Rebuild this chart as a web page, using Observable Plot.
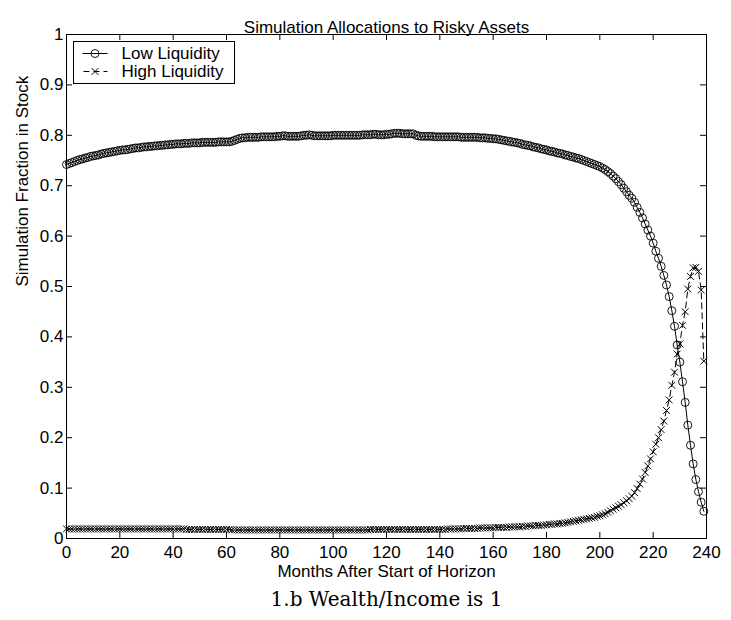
<!DOCTYPE html>
<html>
<head>
<meta charset="utf-8">
<script src="https://cdn.jsdelivr.net/npm/d3@7"></script>
<script src="https://cdn.jsdelivr.net/npm/@observablehq/plot@0.6"></script>
<style>
  html, body { margin: 0; padding: 0; background: white; }
  #chart svg { display: block; }
</style>
</head>
<body>
<div id="chart"></div>
<script>
const chartTitle = "Simulation Allocations to Risky Assets";
const xLabel = "Months After Start of Horizon";
const yLabel = "Simulation Fraction in Stock";
const caption = "1.b Wealth/Income is 1";
const seriesNames = ["Low Liquidity", "High Liquidity"];

const xTicks = [0, 20, 40, 60, 80, 100, 120, 140, 160, 180, 200, 220, 240];
const yTicks = [0, 0.1, 0.2, 0.3, 0.4, 0.5, 0.6, 0.7, 0.8, 0.9, 1];

const months = d3.range(0, 240);

const lowLiquidity = [
  0.742,0.744,0.746,0.748,0.750,0.752,0.753,0.755,0.756,0.758,
  0.759,0.760,0.761,0.763,0.764,0.765,0.766,0.767,0.768,0.769,
  0.770,0.771,0.771,0.772,0.773,0.774,0.775,0.775,0.776,0.777,
  0.777,0.778,0.778,0.779,0.779,0.780,0.780,0.781,0.781,0.782,
  0.782,0.783,0.783,0.783,0.784,0.784,0.784,0.785,0.785,0.785,
  0.785,0.786,0.786,0.786,0.786,0.786,0.786,0.787,0.787,0.787,
  0.787,0.787,0.788,0.790,0.792,0.794,0.795,0.795,0.796,0.796,
  0.796,0.796,0.796,0.797,0.797,0.797,0.797,0.797,0.797,0.798,
  0.798,0.799,0.799,0.798,0.798,0.798,0.798,0.798,0.799,0.800,
  0.800,0.801,0.800,0.799,0.799,0.799,0.799,0.799,0.799,0.799,
  0.800,0.800,0.800,0.800,0.800,0.800,0.800,0.800,0.800,0.800,
  0.800,0.801,0.801,0.801,0.801,0.802,0.802,0.801,0.801,0.801,
  0.802,0.802,0.803,0.804,0.804,0.804,0.803,0.803,0.803,0.803,
  0.803,0.800,0.799,0.798,0.798,0.798,0.798,0.798,0.797,0.797,
  0.797,0.797,0.797,0.797,0.797,0.797,0.797,0.797,0.796,0.796,
  0.796,0.796,0.796,0.796,0.796,0.795,0.795,0.795,0.794,0.794,
  0.793,0.793,0.792,0.791,0.790,0.789,0.788,0.787,0.786,0.785,
  0.784,0.782,0.781,0.780,0.779,0.777,0.776,0.775,0.773,0.772,
  0.771,0.769,0.768,0.767,0.765,0.764,0.763,0.761,0.760,0.758,
  0.757,0.755,0.754,0.752,0.750,0.748,0.746,0.744,0.742,0.740,
  0.738,0.735,0.732,0.728,0.724,0.719,0.714,0.708,0.702,0.695,
  0.688,0.681,0.675,0.667,0.657,0.647,0.636,0.624,0.612,0.600,
  0.586,0.570,0.556,0.540,0.522,0.503,0.480,0.452,0.421,0.384,
  0.350,0.311,0.270,0.225,0.185,0.148,0.117,0.093,0.072,0.054
];

const highLiquidity = [
  0.019,0.019,0.019,0.019,0.019,0.019,0.019,0.019,0.019,0.019,
  0.019,0.019,0.019,0.019,0.019,0.019,0.019,0.019,0.019,0.019,
  0.019,0.019,0.019,0.019,0.019,0.019,0.019,0.019,0.019,0.019,
  0.019,0.019,0.019,0.019,0.019,0.019,0.019,0.019,0.019,0.019,
  0.019,0.019,0.019,0.019,0.019,0.018,0.018,0.018,0.018,0.018,
  0.018,0.018,0.018,0.018,0.018,0.018,0.018,0.018,0.018,0.018,
  0.018,0.018,0.017,0.017,0.017,0.017,0.017,0.017,0.017,0.017,
  0.017,0.017,0.017,0.017,0.017,0.017,0.017,0.017,0.017,0.017,
  0.017,0.017,0.017,0.017,0.017,0.017,0.017,0.017,0.017,0.017,
  0.017,0.017,0.017,0.017,0.017,0.017,0.017,0.017,0.017,0.017,
  0.017,0.017,0.017,0.017,0.017,0.017,0.017,0.017,0.017,0.017,
  0.017,0.017,0.017,0.017,0.018,0.018,0.018,0.018,0.018,0.018,
  0.018,0.018,0.018,0.018,0.018,0.018,0.018,0.018,0.018,0.018,
  0.018,0.018,0.018,0.018,0.018,0.018,0.018,0.018,0.018,0.018,
  0.018,0.018,0.018,0.019,0.019,0.019,0.019,0.019,0.019,0.020,
  0.020,0.020,0.020,0.020,0.020,0.021,0.021,0.021,0.021,0.021,
  0.021,0.022,0.022,0.022,0.022,0.022,0.023,0.023,0.023,0.023,
  0.023,0.024,0.024,0.025,0.025,0.025,0.026,0.026,0.026,0.027,
  0.027,0.028,0.028,0.029,0.029,0.030,0.030,0.031,0.032,0.033,
  0.034,0.035,0.036,0.037,0.038,0.039,0.040,0.041,0.042,0.044,
  0.045,0.047,0.049,0.052,0.055,0.058,0.061,0.064,0.067,0.071,
  0.075,0.079,0.084,0.091,0.099,0.108,0.118,0.131,0.144,0.158,
  0.172,0.187,0.200,0.216,0.233,0.254,0.275,0.304,0.330,0.366,
  0.386,0.423,0.450,0.495,0.520,0.537,0.538,0.530,0.493,0.352
];

const low = months.map((m, i) => ({month: m, value: lowLiquidity[i]}));
const high = months.map((m, i) => ({month: m, value: highLiquidity[i]}));

const W = 731, H = 620;
const mT = 34, mB = 82, mL = 66, mR = 25;
const frameW = W - mL - mR, frameH = H - mT - mB;
const tick = 6;

const chart = Plot.plot({
  width: W,
  height: H,
  marginTop: mT,
  marginBottom: mB,
  marginLeft: mL,
  marginRight: mR,
  style: {fontFamily: "'Liberation Sans', Arial, Helvetica, sans-serif", fontSize: "17px", background: "white", color: "black", overflow: "visible"},
  x: {domain: [0, 240]},
  y: {domain: [0, 1]},
  marks: [
    Plot.axisX(xTicks, {anchor: "bottom", tickSize: 0, tickPadding: 7, label: null}),
    Plot.axisY(yTicks, {anchor: "left", tickSize: 0, tickPadding: 3, label: null, tickFormat: d => String(d)}),
    Plot.ruleX(xTicks, {x: d => d, insetTop: frameH - tick, stroke: "black"}),
    Plot.ruleX(xTicks, {x: d => d, insetBottom: frameH - tick, stroke: "black"}),
    Plot.ruleY(yTicks, {y: d => d, insetRight: frameW - tick, stroke: "black"}),
    Plot.ruleY(yTicks, {y: d => d, insetLeft: frameW - tick, stroke: "black"}),
    Plot.line(low, {x: "month", y: "value", stroke: "black", strokeWidth: 1}),
    Plot.dot(low, {x: "month", y: "value", r: 4, stroke: "black", fill: "none", strokeWidth: 0.9}),
    Plot.line(high, {x: "month", y: "value", stroke: "black", strokeWidth: 1, strokeDasharray: "6,4"}),
    Plot.dot(high, {x: "month", y: "value", symbol: "times", r: 3.2, stroke: "black", strokeWidth: 1}),
    Plot.frame({stroke: "black", strokeWidth: 1}),
    Plot.text([chartTitle], {text: d => d, frameAnchor: "top", dy: -14, fill: "black"}),
    Plot.text([xLabel], {text: d => d, frameAnchor: "bottom", dy: 38, fill: "black"}),
    Plot.text([yLabel], {text: d => d, frameAnchor: "left", dx: -44, rotate: -90, fill: "black"}),
    Plot.text([caption], {text: d => d, frameAnchor: "bottom", dy: 67, fill: "black", fontFamily: "'DejaVu Serif', serif", fontSize: 20})
  ]
});

document.getElementById("chart").appendChild(chart);

// Legend (decoration) drawn into the Plot SVG, positioned relative to the frame
const svg = d3.select(chart);
const lg = svg.append("g").attr("fill", "none").attr("stroke", "black");
const lx = mL + 7.5, ly = mT + 7.5, lw = 161, lh = 42;
lg.append("rect").attr("x", lx).attr("y", ly).attr("width", lw).attr("height", lh)
  .attr("fill", "white").attr("stroke", "black").attr("stroke-width", 1);
const rows = [ly + 12, ly + 30];
lg.append("line").attr("x1", lx + 9).attr("x2", lx + 34).attr("y1", rows[0]).attr("y2", rows[0]);
lg.append("circle").attr("cx", lx + 21.5).attr("cy", rows[0]).attr("r", 4).attr("stroke-width", 0.9);
lg.append("line").attr("x1", lx + 9).attr("x2", lx + 34).attr("y1", rows[1]).attr("y2", rows[1]).attr("stroke-dasharray", "6,4").attr("stroke-dashoffset", -1);
lg.append("path").attr("d", d3.symbol(d3.symbolTimes, Math.PI * 3.2 * 3.2)()).attr("transform", `translate(${lx + 21.5},${rows[1]})`);
seriesNames.forEach((name, i) => {
  svg.append("text").attr("x", lx + 48).attr("y", rows[i]).attr("dy", "0.35em")
    .attr("text-anchor", "start")
    .attr("fill", "black").attr("font-size", 17).text(name);
});
</script>
</body>
</html>
